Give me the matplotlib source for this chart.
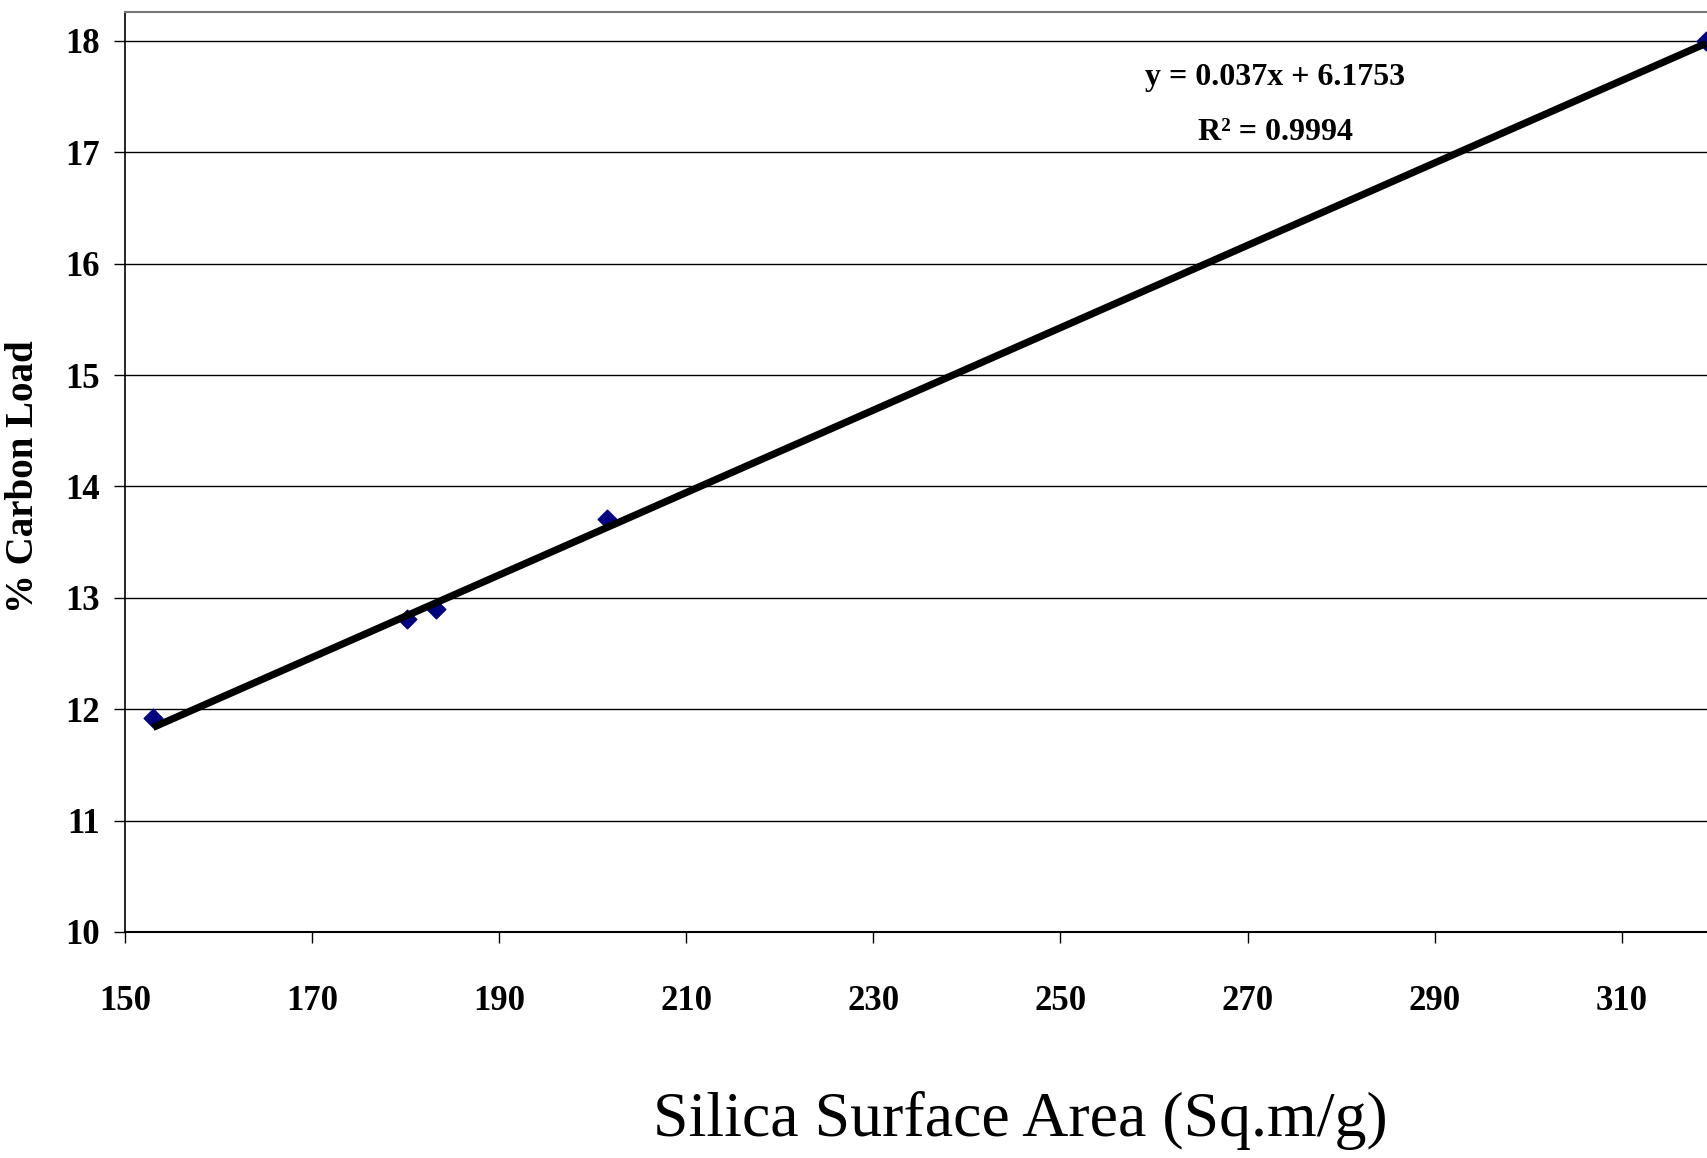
import numpy as np
import matplotlib
matplotlib.use('Agg')
import matplotlib.pyplot as plt

# silica surface area (sq.m/g) vs % carbon load
surface_area = [153.0, 180.2, 183.3, 201.5, 319.0]
carbon_load = [11.92, 12.81, 12.90, 13.71, 18.0]

# linear trendline reported on the chart
slope = 0.037
intercept = 6.1753
r_squared = 0.9994

x_ticks = [150, 170, 190, 210, 230, 250, 270, 290, 310]
y_ticks = [10, 11, 12, 13, 14, 15, 16, 17, 18]

plt.rcParams['font.family'] = ['Liberation Serif', 'DejaVu Serif']

fig = plt.figure(figsize=(17.07, 11.58), dpi=100)
ax = fig.add_axes([0.0732, 0.1952, 0.9278, 0.9896 - 0.1952])

ax.scatter(surface_area, carbon_load, marker='D', s=90, color='#000080',
           zorder=3)

# trendline drawn from the equation over the data range
xs = np.array([min(surface_area), max(surface_area)])
ax.plot(xs, slope * xs + intercept, color='black', lw=5.2, zorder=4,
        solid_capstyle='butt')

ax.set_xlim(150, 319.3)
ax.set_ylim(10, 18.26)
ax.set_xticks(x_ticks)
ax.set_yticks(y_ticks)

for y in y_ticks[1:]:
    ax.axhline(y, color='black', lw=1.0, zorder=1)

ax.spines['top'].set_color('#777777')
ax.spines['top'].set_linewidth(1.5)
ax.spines['right'].set_visible(False)
ax.spines['left'].set_linewidth(1.2)
ax.spines['bottom'].set_linewidth(1.5)

ax.tick_params(axis='both', direction='out', length=8, width=1.0,
               labelsize=25)
ax.tick_params(axis='x', pad=30)
ax.tick_params(axis='y', pad=10)
for lab in ax.get_xticklabels() + ax.get_yticklabels():
    lab.set_fontweight('bold')

fig.text(1275 / 1707, 1 - 77 / 1158, f'y = {slope}x + {intercept}',
         ha='center', va='center', fontsize=23, fontweight='bold')
fig.text(1275 / 1707, 1 - 133 / 1158, f'R² = {r_squared}',
         ha='center', va='center', fontsize=23, fontweight='bold')

fig.text(1020 / 1707, 1 - 1121 / 1158, 'Silica Surface Area (Sq.m/g)',
         ha='center', va='center', fontsize=46)
fig.text(24 / 1707, 1 - 477 / 1158, '% Carbon Load', rotation=90,
         ha='center', va='center', fontsize=28, fontweight='bold')

fig.savefig('out.png', dpi=100)
